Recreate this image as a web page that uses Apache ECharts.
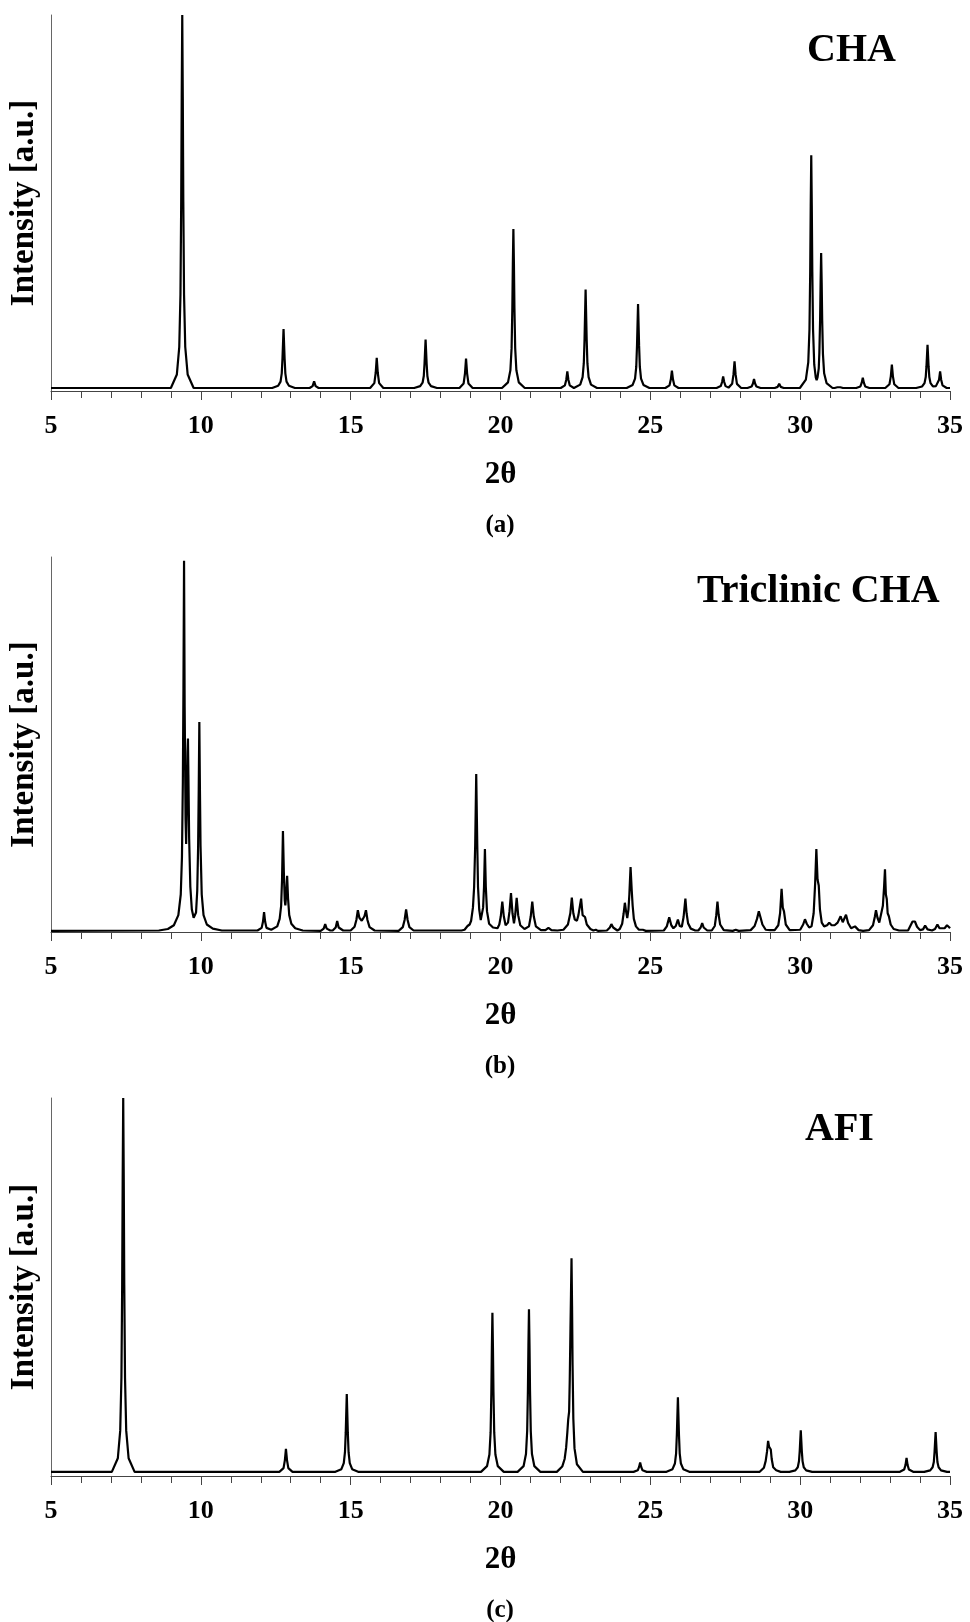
<!DOCTYPE html>
<html>
<head>
<meta charset="utf-8">
<script src="https://cdn.jsdelivr.net/npm/echarts@6/dist/echarts.min.js"></script>
<style>
html,body{margin:0;padding:0;background:#fff;}
#chart{width:970px;height:1622px;}
</style>
</head>
<body>
<div id="chart"></div>
<script>
// ---- data (2θ, intensity in % of panel height) ----
const xTickValues = [5, 10, 15, 20, 25, 30, 35];
const panelTitles = ['CHA', 'Triclinic CHA', 'AFI'];
const panelTags = ['(a)', '(b)', '(c)'];
const xAxisName = '2θ';
const yAxisName = 'Intensity [a.u.]';

const patternCHA = [
  [5,0.8],[9.00,0.8],[9.20,4.4],[9.28,11.7],[9.32,25.6],[9.345,50.4],[9.362,78.2],[9.38,100],[9.398,78.2],[9.415,50.4],[9.44,25.6],[9.48,11.7],[9.56,4.4],[9.76,0.8],
  [12.38,0.8],[12.58,1.4],[12.66,2.5],[12.70,4.7],[12.725,8.7],[12.76,16.5],[12.795,8.7],[12.82,4.7],[12.86,2.5],[12.94,1.4],[13.14,0.8],
  [13.63,0.8],[13.73,1.3],[13.78,2.6],[13.83,1.3],[13.93,0.8],
  [15.65,0.8],[15.79,2.1],[15.835,4.8],[15.87,8.8],[15.905,4.8],[15.95,2.1],[16.09,0.8],
  [17.12,0.8],[17.32,1.3],[17.40,2.2],[17.44,4.0],[17.465,7.3],[17.50,13.7],[17.535,7.3],[17.56,4.0],[17.60,2.2],[17.68,1.3],[17.88,0.8],
  [18.63,0.8],[18.77,2.0],[18.815,4.7],[18.85,8.6],[18.885,4.7],[18.93,2.0],[19.07,0.8],
  [20.05,0.8],[20.25,2.3],[20.33,5.5],[20.37,11.4],[20.395,22.0],[20.412,33.8],[20.43,43.1],[20.448,33.8],[20.465,22.0],[20.49,11.4],[20.53,5.5],[20.61,2.3],[20.81,0.8],
  [22.01,0.8],[22.15,1.5],[22.195,3.0],[22.23,5.2],[22.265,3.0],[22.31,1.5],[22.45,0.8],
  [22.66,1.7],[22.74,3.7],[22.78,7.4],[22.805,13.9],[22.84,27.0],[22.875,13.9],[22.90,7.4],[22.94,3.7],[23.02,1.7],[23.22,0.8],
  [24.21,0.8],[24.41,1.6],[24.49,3.3],[24.53,6.4],[24.555,12.0],[24.59,23.1],[24.625,12.0],[24.65,6.4],[24.69,3.3],[24.77,1.6],[24.97,0.8],
  [25.50,0.8],[25.64,1.5],[25.685,3.1],[25.72,5.4],[25.755,3.1],[25.80,1.5],[25.94,0.8],
  [27.21,0.8],[27.35,1.3],[27.395,2.4],[27.43,3.9],[27.465,2.4],[27.51,1.3],[27.61,0.9],
  [27.73,1.9],[27.775,4.4],[27.81,7.9],[27.845,4.4],[27.89,1.9],[28.03,0.8],
  [28.24,0.8],[28.38,1.2],[28.425,2.0],[28.46,3.2],[28.495,2.0],[28.54,1.2],[28.68,0.8],
  [29.15,0.8],[29.25,1.1],[29.30,1.9],[29.35,1.1],[29.45,0.8],
  [29.99,0.8],[30.19,3.0],[30.27,7.6],[30.31,16.3],[30.335,31.8],[30.352,49.1],[30.37,62.7],[30.388,49.1],[30.405,31.8],[30.43,16.3],[30.47,7.0],[30.52,3.6],[30.55,2.9],[30.58,3.6],[30.62,6.0],[30.64,10.1],[30.665,18.8],[30.682,28.8],[30.70,36.7],[30.718,28.8],[30.735,18.8],[30.76,9.8],[30.80,4.7],[30.88,2.1],[31.08,0.8],
  [31.15,0.8],[31.24,1.0],[31.29,1.5],[31.34,1.0],[31.43,0.8],
  [31.87,0.8],[32.01,1.2],[32.055,2.2],[32.09,3.5],[32.125,2.2],[32.17,1.2],[32.31,0.8],
  [32.84,0.8],[32.98,1.8],[33.025,3.9],[33.06,7.0],[33.095,3.9],[33.14,1.8],[33.28,0.8],
  [33.87,0.8],[34.07,1.2],[34.15,2.1],[34.19,3.7],[34.215,6.6],[34.25,12.3],[34.285,6.6],[34.31,3.7],[34.35,2.1],[34.43,1.2],[34.47,1.0],
  [34.53,1.3],[34.59,1.6],[34.635,3.0],[34.67,5.2],[34.705,3.0],[34.75,1.5],[34.89,0.8],[35,0.8]
];

const patternTriclinic = [
  [5,0.3],[8.6,0.4],[8.9,0.8],[9.1,1.8],[9.25,4.5],[9.33,10],[9.37,20],[9.40,40],[9.42,65],[9.44,99],[9.46,60],[9.49,30],[9.51,23.5],[9.535,35],[9.555,48],[9.57,51.6],[9.585,42],[9.61,25],[9.65,12],[9.70,6],[9.76,3.8],[9.80,3.6],[9.84,5.2],[9.88,11],[9.91,23],[9.93,38],[9.95,56],[9.97,38],[9.99,23],[10.03,10],[10.09,4.5],[10.2,2],[10.4,0.9],[10.7,0.4],
  [11.89,0.4],[12.03,1.1],[12.075,2.8],[12.11,5.3],[12.145,2.8],[12.19,1.1],[12.35,0.6],
  [12.55,1.5],[12.63,3.5],[12.68,7.0],[12.71,14],[12.74,26.9],[12.77,16],[12.80,8.5],[12.82,7.1],[12.845,9.5],[12.88,15],[12.91,9],[12.95,4.5],[13.02,2.2],[13.15,1.0],[13.4,0.4],
  [14.0,0.3],[14.1,0.9],[14.15,2.1],[14.2,0.9],[14.32,0.4],
  [14.4,0.4],[14.5,1.2],[14.55,2.9],[14.6,1.2],[14.75,0.4],
  [15.0,0.4],[15.13,1.4],[15.19,3.2],[15.24,5.8],[15.29,3.8],[15.33,3.3],[15.37,3.0],[15.42,3.4],[15.46,4.2],[15.51,5.8],[15.56,3.2],[15.63,1.3],[15.8,0.4],
  [16.6,0.3],[16.74,1.3],[16.80,3.2],[16.85,6.0],[16.90,3.2],[16.96,1.3],[17.1,0.4],
  [18.7,0.4],[18.80,0.6],[18.90,1.6],[18.93,2.1],[18.97,2.0],[19.02,3.0],[19.08,6.5],[19.12,12],[19.155,23],[19.19,42.1],[19.225,23],[19.25,12],[19.29,6],[19.34,3.2],[19.36,2.8],[19.39,3.5],[19.42,6.5],[19.45,12],[19.48,22.1],[19.51,12],[19.55,5.5],[19.62,2.2],[19.75,1.2],[19.9,1.0],
  [19.96,2.0],[20.01,4.2],[20.06,8.1],[20.11,4.2],[20.17,1.8],[20.21,1.5],
  [20.25,2.5],[20.30,5.5],[20.35,10.4],[20.40,5.0],[20.45,2.3],[20.49,4.5],[20.54,9.1],[20.59,4.5],[20.66,1.8],[20.8,0.8],
  [20.95,1.5],[21.01,4.2],[21.06,8.1],[21.11,4.2],[21.18,1.5],[21.35,0.5],
  [21.5,0.5],[21.6,1.1],[21.7,0.5],[21.9,0.4],
  [22.1,0.6],[22.25,2.0],[22.33,5.0],[22.38,9.2],[22.43,5.0],[22.48,3.3],[22.55,3.0],[22.60,4.5],[22.64,4.8],[22.69,8.9],[22.74,4.5],[22.76,5.0],[22.82,4.0],[22.88,2.0],[23.0,0.8],[23.1,0.4],[23.18,0.6],[23.25,0.3],
  [23.55,0.4],[23.65,1.2],[23.70,2.1],[23.76,1.2],[23.9,0.4],
  [23.98,0.8],[24.06,2.2],[24.11,5.0],[24.15,7.8],[24.19,5.5],[24.23,3.7],[24.27,6.0],[24.30,10],[24.34,17.3],[24.38,11],[24.41,7],[24.45,3.5],[24.52,1.5],[24.62,0.6],[24.75,0.6],[24.85,0.3],
  [25.45,0.4],[25.55,1.5],[25.63,3.9],[25.70,1.8],[25.77,1.0],[25.85,1.6],[25.92,3.3],[25.98,1.6],[26.05,1.4],[26.11,4.0],[26.17,8.9],[26.21,5.0],[26.26,2.3],[26.35,0.9],[26.5,0.4],
  [26.6,0.4],[26.68,1.2],[26.73,2.4],[26.78,1.2],[26.9,0.4],
  [27.05,0.4],[27.15,1.6],[27.20,4.5],[27.24,8.1],[27.28,4.6],[27.33,2.0],[27.45,0.5],
  [27.75,0.3],[27.85,0.6],[27.95,0.3],
  [28.35,0.5],[28.48,1.6],[28.56,3.5],[28.62,5.5],[28.68,3.8],[28.74,2.0],[28.85,0.6],[29.0,0.5],
  [29.15,0.5],[29.27,1.8],[29.33,5.0],[29.38,11.5],[29.42,6.5],[29.46,5.5],[29.52,2.0],[29.65,0.5],
  [30.0,0.6],[30.10,2.0],[30.16,3.4],[30.22,2.2],[30.30,1.2],[30.38,1.5],
  [30.45,5.0],[30.50,13],[30.54,22.1],[30.58,14],[30.62,12.4],[30.66,6.0],[30.72,2.5],[30.80,1.5],[30.90,1.8],
  [30.97,2.5],[31.05,1.8],[31.15,1.8],[31.25,2.5],[31.35,4.2],[31.42,2.6],[31.53,4.6],[31.60,2.4],[31.70,1.0],[31.83,1.5],[31.95,0.5],[32.1,0.3],
  [32.3,0.5],[32.43,1.8],[32.49,4.0],[32.53,5.8],[32.58,3.8],[32.64,2.5],
  [32.70,3.0],[32.76,7.0],[32.80,12],[32.83,16.7],[32.86,10],[32.89,8.8],[32.92,5.0],[32.96,4.2],[33.02,2.0],[33.12,0.8],[33.3,0.4],
  [33.6,0.4],[33.70,2.0],[33.75,2.8],[33.83,2.8],[33.90,1.4],[34.0,0.5],
  [34.1,0.7],[34.17,1.7],[34.25,0.7],[34.4,0.4],
  [34.5,0.8],[34.58,2.0],[34.65,1.0],[34.75,1.0],[34.82,1.0],[34.90,1.8],[34.94,2.3],[34.98,1.2],[35,1.0]
];

const patternAFI = [
  [5,1.1],[7.03,1.1],[7.23,4.7],[7.31,12],[7.35,26],[7.375,50.6],[7.392,78.3],[7.41,100],[7.428,78.3],[7.445,50.6],[7.47,26],[7.51,12],[7.59,4.7],[7.79,1.1],
  [12.62,1.1],[12.76,2.1],[12.805,4.2],[12.84,7.2],[12.875,4.2],[12.92,2.1],[13.06,1.1],
  [14.49,1.1],[14.69,1.8],[14.77,3.4],[14.81,6.3],[14.835,11.4],[14.87,21.7],[14.905,11.4],[14.93,6.3],[14.97,3.4],[15.05,1.8],[15.25,1.1],
  [19.35,1.1],[19.55,2.6],[19.63,5.7],[19.67,11.6],[19.695,22.2],[19.712,33.9],[19.73,43.2],[19.748,33.9],[19.765,22.2],[19.79,11.6],[19.83,5.7],[19.91,2.6],[20.11,1.1],
  [20.57,1.1],[20.77,2.6],[20.85,5.8],[20.89,11.9],[20.915,22.6],[20.932,34.6],[20.95,44.1],[20.968,34.6],[20.985,22.6],[21.01,11.9],[21.05,5.8],[21.13,2.6],[21.33,1.1],
  [21.88,1.1],[22.06,2.5],[22.14,4.5],[22.19,7.5],[22.23,11.5],[22.26,15],[22.29,17],[22.31,25],[22.335,39],[22.352,48],[22.37,57.6],[22.388,45],[22.405,29.4],[22.43,15.2],[22.47,7.3],[22.55,3.1],[22.75,1.1],
  [24.44,1.1],[24.58,1.5],[24.625,2.4],[24.66,3.6],[24.695,2.4],[24.74,1.5],[24.88,1.1],
  [25.54,1.1],[25.74,1.8],[25.82,3.3],[25.86,6.0],[25.885,11],[25.92,20.8],[25.955,11],[25.98,6.0],[26.02,3.3],[26.10,1.8],[26.30,1.1],
  [28.65,1.1],[28.79,2.2],[28.85,4.0],[28.895,6.5],[28.93,9.3],[28.96,7.8],[28.99,7.4],[29.02,7.0],[29.05,4.5],[29.10,2.3],[29.2,1.5],[29.35,1.1],
  [29.64,1.1],[29.84,1.5],[29.92,2.3],[29.96,3.9],[29.985,6.6],[30.02,12.1],[30.055,6.6],[30.08,3.9],[30.12,2.3],[30.20,1.5],[30.40,1.1],
  [33.33,1.1],[33.47,1.7],[33.515,2.9],[33.55,4.8],[33.585,2.9],[33.63,1.7],[33.77,1.1],
  [34.14,1.1],[34.34,1.5],[34.42,2.3],[34.46,3.7],[34.485,6.4],[34.52,11.6],[34.555,6.4],[34.58,3.7],[34.62,2.3],[34.70,1.5],[34.90,1.1],[35,1.1]
];

const patterns = [patternCHA, patternTriclinic, patternAFI];

// ---- layout ----
const gridTops = [15, 557, 1098];
const gridHeights = [376, 375, 378];
const gridLeft = 51, gridWidth = 899;
const serif = "'Liberation Serif','Times New Roman',serif";
const axisColor = '#444';

const grids = [], xAxes = [], yAxes = [], series = [], graphics = [];
const titleX = [807, 697, 805];
const titleY = [51, 592, 1130];
const tagY = [526, 1067, 1611];

for (let i = 0; i < 3; i++) {
  grids.push({left: gridLeft, top: gridTops[i], width: gridWidth, height: gridHeights[i], containLabel: false});
  xAxes.push({
    type: 'value', gridIndex: i, min: xTickValues[0], max: xTickValues[xTickValues.length - 1], interval: 5,
    name: xAxisName, nameLocation: 'middle', nameGap: 68,
    nameTextStyle: {fontFamily: serif, fontWeight: 'bold', fontSize: 31, color: '#000'},
    axisLine: {show: true, onZero: false, lineStyle: {color: axisColor, width: 1}},
    axisTick: {show: true, inside: false, length: 9, lineStyle: {color: axisColor, width: 1}},
    minorTick: {show: true, splitNumber: 5, length: 7, lineStyle: {color: axisColor, width: 1}},
    splitLine: {show: false}, minorSplitLine: {show: false},
    axisLabel: {fontFamily: serif, fontWeight: 'bold', fontSize: 26, color: '#000', margin: 22}
  });
  yAxes.push({
    type: 'value', gridIndex: i, min: 0, max: 100,
    name: yAxisName, nameLocation: 'middle', nameGap: 10, nameRotate: 90,
    nameTextStyle: {fontFamily: serif, fontWeight: 'bold', fontSize: 33, color: '#000'},
    axisLine: {show: true, onZero: false, lineStyle: {color: '#666', width: 1}},
    axisTick: {show: false}, axisLabel: {show: false}, splitLine: {show: false}
  });
  series.push({
    type: 'line', xAxisIndex: i, yAxisIndex: i, data: patterns[i],
    showSymbol: false, symbol: 'none', smooth: false, animation: false,
    lineStyle: {color: '#000', width: 2.2}
  });
  graphics.push({
    type: 'text', x: titleX[i], y: titleY[i],
    style: {text: panelTitles[i], fontFamily: serif, fontWeight: 'bold', fontSize: 40, fill: '#000', align: 'left', verticalAlign: 'middle'}
  });
  graphics.push({
    type: 'text', x: 500, y: tagY[i],
    style: {text: panelTags[i], fontFamily: serif, fontWeight: 'bold', fontSize: 25, fill: '#000', align: 'center', verticalAlign: 'middle'}
  });
}

const chart = echarts.init(document.getElementById('chart'), null, {renderer: 'canvas'});
chart.setOption({
  backgroundColor: '#fff',
  animation: false,
  grid: grids,
  xAxis: xAxes,
  yAxis: yAxes,
  series: series,
  graphic: graphics
});
</script>
</body>
</html>
